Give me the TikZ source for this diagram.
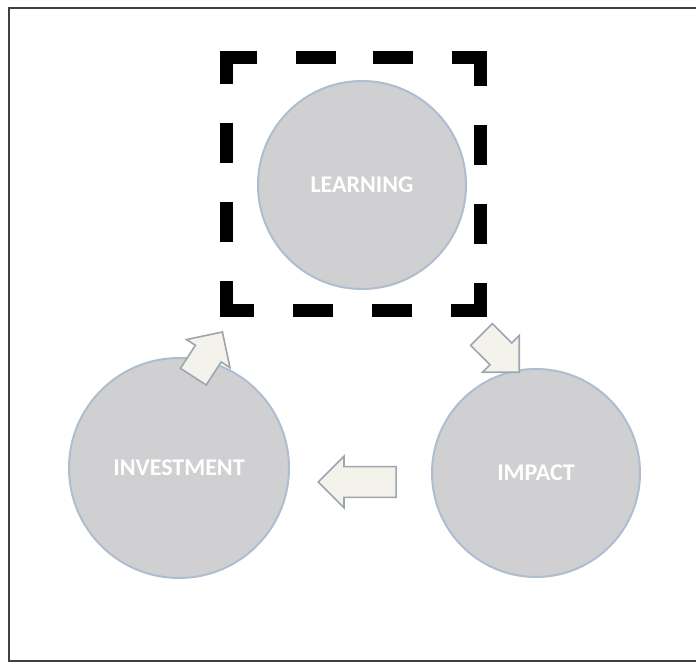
\documentclass[tikz,border=0pt]{standalone}
\usepackage{fontspec}
\setmainfont{Carlito}
\usetikzlibrary{shapes.arrows}
\definecolor{stagefill}{HTML}{D0D0D2}
\definecolor{stageline}{HTML}{AEBDD0}
\definecolor{arrowfill}{HTML}{F3F3EB}
\definecolor{arrowline}{HTML}{9DA5AE}
\begin{document}
\begin{tikzpicture}[x=0.75pt,y=-0.75pt,
        stage/.style={circle, draw=stageline, line width=1.5pt, fill=stagefill,
            minimum size=156pt, inner sep=0pt, text=white,
            font=\fontsize{18}{21}\selectfont\bfseries},
        flow/.style={single arrow, draw=arrowline, line width=1.2pt, fill=arrowfill,
            inner xsep=0pt, inner ysep=10.9pt, single arrow head extend=7.9pt,
            anchor=tip}]
    \useasboundingbox (0,0) rectangle (696,663);
    % outer frame
    \draw[line width=1.5pt, black!75] (9,8) rectangle (710,661);
    % the three stages
    \node[stage] (learn) at (362,185) {LEARNING};
    \node[stage, minimum size=165pt] (invest) at (179,468) {INVESTMENT};
    \node[stage] (impact) at (536,473) {IMPACT};
    % block arrows between the stages
    \node[flow, rotate=57, minimum height=40pt] (a1) at (223,331) {};
    \node[flow, rotate=-45, minimum height=40pt] (a2) at (520,373) {};
    \node[flow, rotate=180, minimum height=58.5pt] (a3) at (317,482) {};
    % dashed square round the learning stage
    \draw[line width=9.75pt,
        dash pattern=on 30pt off 29.25pt on 42.75pt off 29.25pt on 30pt off 29.25pt,
        dash phase=175.9pt]
        (353.5,57.5) -- (480.5,57.5) -- (480.5,310.5) -- (226.5,310.5)
        -- (226.5,57.5) -- cycle;
\end{tikzpicture}
\end{document}
